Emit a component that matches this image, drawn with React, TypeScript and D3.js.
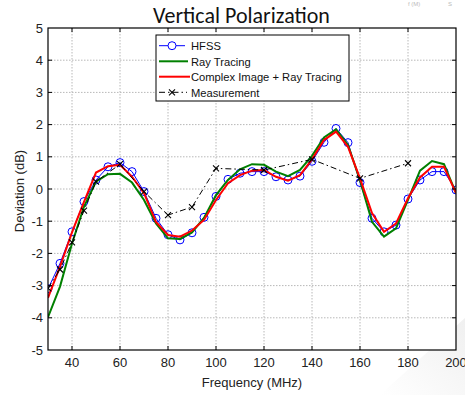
import React from "react";
import * as d3 from "d3";

const freqs = [30, 35, 40, 45, 50, 55, 60, 65, 70, 75, 80, 85, 90, 95, 100, 105, 110, 115, 120, 125, 130, 135, 140, 145, 150, 155, 160, 165, 170, 175, 180, 185, 190, 195, 200];
const hfss = [-3.1, -2.31, -1.33, -0.39, 0.28, 0.69, 0.82, 0.54, -0.08, -0.91, -1.42, -1.58, -1.36, -0.88, -0.23, 0.3, 0.49, 0.54, 0.54, 0.38, 0.28, 0.4, 0.86, 1.45, 1.88, 1.44, 0.2, -0.91, -1.33, -1.12, -0.31, 0.28, 0.54, 0.54, -0.03];
const rayTracing = [-3.98, -3.03, -1.69, -0.55, 0.23, 0.46, 0.47, 0.2, -0.34, -1.07, -1.53, -1.55, -1.35, -0.9, -0.19, 0.28, 0.61, 0.77, 0.75, 0.54, 0.4, 0.59, 1.03, 1.6, 1.85, 1.37, 0.27, -1.02, -1.48, -1.22, -0.34, 0.57, 0.87, 0.77, -0.13];
const complexImage = [-3.38, -2.41, -1.35, -0.4, 0.51, 0.71, 0.75, 0.38, -0.13, -1.02, -1.43, -1.48, -1.29, -0.96, -0.34, 0.18, 0.43, 0.57, 0.59, 0.38, 0.26, 0.43, 0.92, 1.52, 1.78, 1.31, 0.33, -0.75, -1.33, -1.07, -0.29, 0.36, 0.69, 0.69, -0.13];
const measFreqs = [30, 35, 40, 45, 50, 60, 70, 80, 90, 100, 120, 140, 160, 180];
const measurement = [-3.08, -2.5, -1.66, -0.67, 0.23, 0.77, -0.08, -0.81, -0.56, 0.64, 0.59, 0.92, 0.33, 0.8];
const xTicks = [40, 60, 80, 100, 120, 140, 160, 180, 200];
const yTicks = [-5, -4, -3, -2, -1, 0, 1, 2, 3, 4, 5];
const legendLabels = ["HFSS", "Ray Tracing", "Complex Image + Ray Tracing", "Measurement"];

const W = 465, H = 395;
const L = 48, R = 456, T = 28, B = 350;
const x = d3.scaleLinear().domain([30, 200]).range([L, R]);
const y = d3.scaleLinear().domain([-5, 5]).range([B, T]);
const line = d3.line<[number, number]>().x(d => x(d[0])).y(d => y(d[1]));
const pts = (xs: number[], ys: number[]) => xs.map((f, i) => [f, ys[i]] as [number, number]);

const axisFont = "'Liberation Sans', Arial, sans-serif";

function XMark({ cx, cy, s = 3 }: { cx: number; cy: number; s?: number }) {
  return (
    <g stroke="#000" strokeWidth={1.1}>
      <line x1={cx - s} y1={cy - s} x2={cx + s} y2={cy + s} />
      <line x1={cx - s} y1={cy + s} x2={cx + s} y2={cy - s} />
    </g>
  );
}

export default function App() {
  const dashDot = "6,3,1.5,3";
  const legX = 156, legY = 35, legW = 193, legH = 66;
  const rows = [45.7, 61.3, 76.7, 92.3];
  return (
    <svg width={W} height={H} style={{ position: "absolute", left: 0, top: 0, background: "#fff" }}>
      <defs>
        <linearGradient id="shade" x1="0" y1="1" x2="1" y2="0">
          <stop offset="0" stopColor="#ffffff" />
          <stop offset="1" stopColor="#ececec" />
        </linearGradient>
        <clipPath id="plotClip">
          <rect x={L} y={T} width={R - L} height={B - T} />
        </clipPath>
      </defs>
      <polygon points={`380,395 465,395 465,318`} fill="url(#shade)" opacity={0.8} />
      <text x={408} y={6} fontSize={6} fill="#bbb" fontFamily={axisFont}>f (M)</text>
      <text x={448} y={6} fontSize={6} fill="#bbb" fontFamily={axisFont}>S</text>
      <text x={241.5} y={23} textAnchor="middle" fontSize={22} fontFamily="Carlito, Lato, 'Open Sans', sans-serif" fill="#111">Vertical Polarization</text>
      <rect x={L} y={T} width={R - L} height={B - T} fill="#fff" />
      {/* grid */}
      <g stroke="#b8b8b8" strokeWidth={1} strokeDasharray="1.5,1.5">
        {xTicks.filter(t => t < 200).map(t => (
          <line key={"gx" + t} x1={x(t)} x2={x(t)} y1={T} y2={B} />
        ))}
        {yTicks.filter(t => t > -5 && t < 5).map(t => (
          <line key={"gy" + t} x1={L} x2={R} y1={y(t)} y2={y(t)} />
        ))}
      </g>
      {/* series */}
      <g clipPath="url(#plotClip)" fill="none">
        <path d={line(pts(freqs, hfss)) || ""} stroke="#0000ff" strokeWidth={1} />
        {freqs.map((f, i) => (
          <circle key={"c" + i} cx={x(f)} cy={y(hfss[i])} r={4} stroke="#0000ff" strokeWidth={1} fill="none" />
        ))}
        <path d={line(pts(freqs, rayTracing)) || ""} stroke="#008000" strokeWidth={2} />
        <path d={line(pts(freqs, complexImage)) || ""} stroke="#ff0000" strokeWidth={2} />
        <path d={line(pts(measFreqs, measurement)) || ""} stroke="#000" strokeWidth={1} strokeDasharray={dashDot} />
        {measFreqs.map((f, i) => (
          <XMark key={"m" + i} cx={x(f)} cy={y(measurement[i])} />
        ))}
      </g>
      {/* axes box and ticks */}
      <rect x={L} y={T} width={R - L} height={B - T} fill="none" stroke="#000" strokeWidth={1.2} />
      <g stroke="#000" strokeWidth={1}>
        {xTicks.filter(t => t < 200).map(t => (
          <g key={"tx" + t}>
            <line x1={x(t)} x2={x(t)} y1={B} y2={B - 4} />
            <line x1={x(t)} x2={x(t)} y1={T} y2={T + 4} />
          </g>
        ))}
        {yTicks.filter(t => t > -5 && t < 5).map(t => (
          <g key={"ty" + t}>
            <line x1={L} x2={L + 4} y1={y(t)} y2={y(t)} />
            <line x1={R} x2={R - 4} y1={y(t)} y2={y(t)} />
          </g>
        ))}
      </g>
      <g fontFamily={axisFont} fontSize={13} fill="#222">
        {xTicks.map(t => (
          <text key={"lx" + t} x={x(t)} y={B + 17} textAnchor="middle">{t}</text>
        ))}
        {yTicks.map(t => (
          <text key={"ly" + t} x={L - 5} y={y(t) + 4.5} textAnchor="end">{t}</text>
        ))}
        <text x={252} y={387} textAnchor="middle">Frequency (MHz)</text>
        <text transform={`translate(24,${191}) rotate(-90)`} textAnchor="middle">Deviation (dB)</text>
      </g>
      {/* legend */}
      <g>
        <rect x={legX} y={legY} width={legW} height={legH} fill="#fff" stroke="#000" strokeWidth={1} />
        <line x1={159} x2={185} y1={rows[0]} y2={rows[0]} stroke="#0000ff" strokeWidth={1} />
        <circle cx={172} cy={rows[0]} r={4} stroke="#0000ff" fill="#fff" strokeWidth={1} />
        <line x1={159} x2={188} y1={rows[1]} y2={rows[1]} stroke="#008000" strokeWidth={2} />
        <line x1={159} x2={190} y1={rows[2]} y2={rows[2]} stroke="#ff0000" strokeWidth={2} />
        <line x1={159} x2={187} y1={rows[3]} y2={rows[3]} stroke="#000" strokeWidth={1} strokeDasharray={dashDot} />
        <XMark cx={172} cy={rows[3]} />
        {legendLabels.map((lab, i) => (
          <text key={lab} x={191} y={rows[i] + 4.5} fontSize={11.2} fontFamily={axisFont} fill="#111">{lab}</text>
        ))}
      </g>
    </svg>
  );
}
